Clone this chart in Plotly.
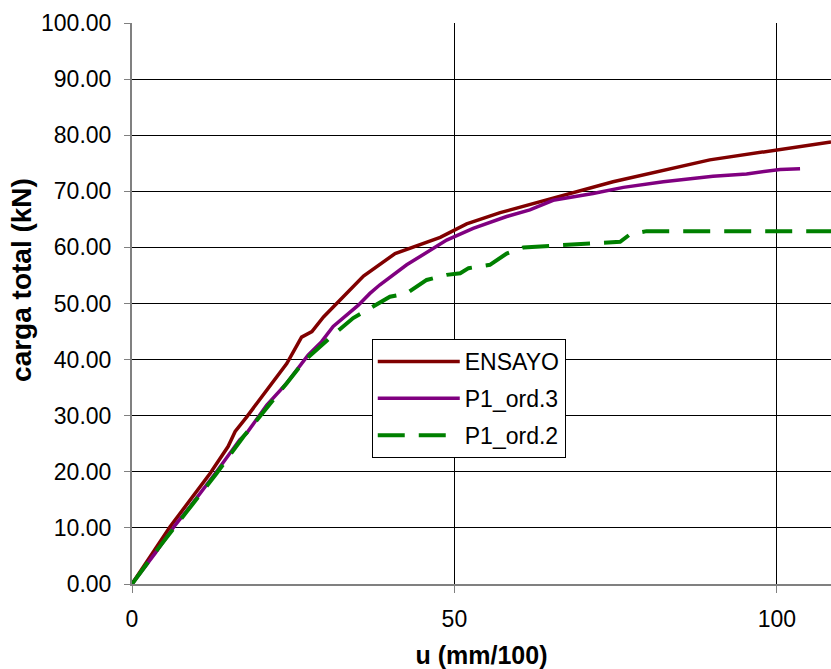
import plotly.graph_objects as go

ensayo_u = [0, 5.9, 12.1, 14.9, 16.0, 17.8, 24.0, 26.3, 27.9, 29.7, 35.9, 38.4, 40.8, 47.8, 51.9, 57.1, 62.7, 74.6, 89.6, 100.0, 108.4]
ensayo_v = [0, 10.2, 19.7, 24.5, 27.2, 29.8, 39.3, 44.0, 45.0, 47.6, 54.9, 56.9, 58.9, 61.8, 64.2, 66.2, 68.0, 71.7, 75.6, 77.4, 78.8]

ord3_u = [0, 3.6, 6.7, 9.0, 12.9, 16.7, 17.8, 20.9, 24.0, 27.3, 29.4, 31.2, 35.1, 36.9, 38.4, 42.6, 48.8, 52.9, 58.1, 61.7, 65.3, 71.5, 76.2, 82.4, 90.1, 95.3, 100.5, 103.6]
ord3_v = [0, 5.5, 10.5, 13.8, 19.7, 25.7, 26.9, 31.9, 35.8, 40.8, 43.2, 45.9, 49.7, 51.8, 53.3, 56.9, 61.3, 63.4, 65.5, 66.7, 68.4, 69.6, 70.7, 71.7, 72.7, 73.1, 73.9, 74.0]

ord2_u = [0, 4.1, 8.5, 11.1, 13.1, 17.3, 19.8, 24.0, 26.8, 29.1, 31.2, 34.3, 36.4, 37.9, 40.0, 42.6, 45.7, 48.8, 50.9, 52.2, 55.5, 58.1, 60.7, 71.0, 75.7, 77.2, 79.8, 110.0]
ord2_v = [0, 6.4, 12.9, 16.8, 19.7, 26.3, 29.8, 35.8, 39.9, 42.3, 44.4, 47.4, 48.8, 49.7, 51.2, 51.8, 54.2, 55.1, 55.4, 56.3, 56.9, 58.9, 60.0, 60.7, 61.0, 62.3, 62.9, 62.9]

y_ticks = [0, 10, 20, 30, 40, 50, 60, 70, 80, 90, 100]
x_ticks = [0, 50, 100]

FONT = "Arial, Liberation Sans, sans-serif"

fig = go.Figure()
fig.add_trace(go.Scatter(x=ensayo_u, y=ensayo_v, mode="lines", name="ENSAYO", legendgroup="a",
                         line=dict(color="#800000", width=3.5)))
fig.add_trace(go.Scatter(x=ord3_u, y=ord3_v, mode="lines", name="P1_ord.3", legendgroup="b",
                         line=dict(color="#800080", width=3.5)))
fig.add_trace(go.Scatter(x=ord2_u, y=ord2_v, mode="lines", name="P1_ord.2", legendgroup="c",
                         line=dict(color="#008000", width=4, dash="27px,14px")))

fig.update_layout(
    width=831, height=669,
    margin=dict(l=132, r=0, t=23, b=85),
    paper_bgcolor="white", plot_bgcolor="white",
    font=dict(family=FONT, size=23, color="black"),
    showlegend=True,
    legend=dict(x=0.343, y=0.4367, xanchor="left", yanchor="top",
                bordercolor="black", borderwidth=1, bgcolor="white",
                font=dict(size=23, family=FONT), traceorder="grouped",
                tracegroupgap=4, itemwidth=82),
    annotations=[dict(text="<b>carga total (kN)</b>", textangle=-90,
                      xref="paper", yref="paper", x=0, y=0.542,
                      xanchor="center", yanchor="middle", xshift=-110, showarrow=False,
                      font=dict(size=28, family=FONT, color="black"))],
)
fig.update_xaxes(range=[0, 108.4], tickvals=x_ticks, ticktext=[str(t) for t in x_ticks],
                 showgrid=True, gridcolor="black", gridwidth=1,
                 showline=True, linecolor="#808080", linewidth=2,
                 ticks="outside", ticklen=7, tickcolor="#808080",
                 zeroline=False, ticklabelstandoff=6, automargin=False,
                 tickfont=dict(size=23, family=FONT),
                 title=dict(text="<b>u (mm/100)</b>", font=dict(size=25, family=FONT), standoff=16))
fig.update_yaxes(range=[0, 100], tickvals=y_ticks, ticktext=[f"{t:.2f}" for t in y_ticks],
                 showgrid=True, gridcolor="black", gridwidth=1,
                 showline=True, linecolor="#808080", linewidth=2,
                 ticks="outside", ticklen=6, tickcolor="#808080",
                 zeroline=False, ticklabelstandoff=8, automargin=False,
                 tickfont=dict(size=23, family=FONT))

fig.write_html("out.html", config={"displayModeBar": False},
               post_script="document.body.style.margin='0';document.body.style.overflow='hidden';")
